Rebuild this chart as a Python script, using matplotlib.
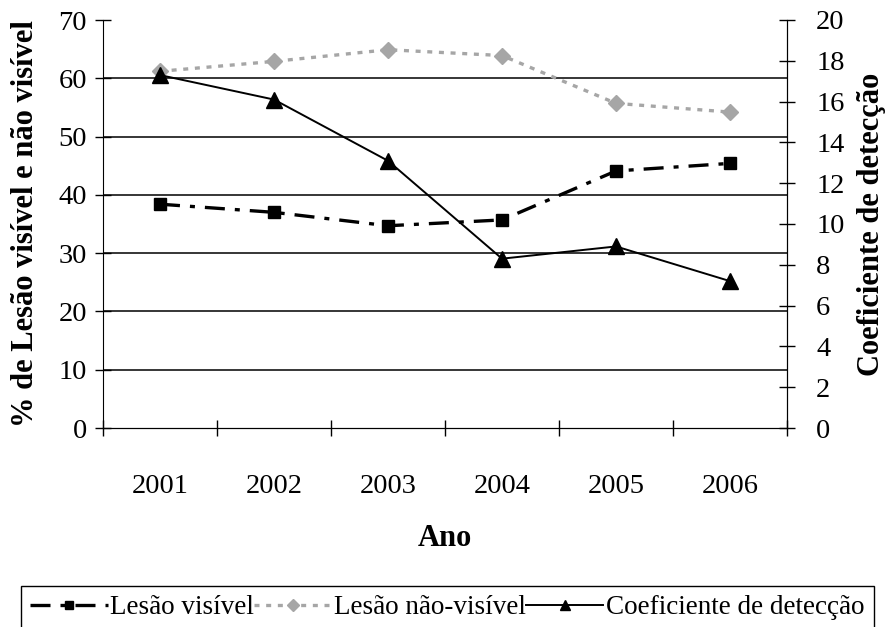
import matplotlib
matplotlib.use('Agg')
import matplotlib.pyplot as plt
from matplotlib.ticker import FixedLocator, NullFormatter

plt.rcParams['font.family'] = ['Liberation Serif', 'DejaVu Serif']

anos = [2001, 2002, 2003, 2004, 2005, 2006]
lesao_visivel = [38.4, 37.0, 34.7, 35.7, 44.1, 45.4]
lesao_nao_visivel = [61.2, 62.9, 64.9, 63.9, 55.7, 54.2]
coef_deteccao = [17.3, 16.1, 13.1, 8.3, 8.9, 7.2]

fig = plt.figure(figsize=(8.89, 6.27), dpi=100)
ax = fig.add_axes([103 / 889, 1 - 428 / 627, (787 - 103) / 889, (428 - 20) / 627])
ax2 = ax.twinx()

l1, = ax.plot(anos, lesao_visivel, color='black', lw=2.4, ls=(0, (6, 3, 1.5, 3)),
              marker='s', ms=8, mfc='black', mec='black', label='Lesão visível', zorder=3)
l2, = ax.plot(anos, lesao_nao_visivel, color='#a6a6a6', lw=2.4, ls=(0, (1.5, 2)),
              marker='D', ms=8.5, mfc='#a6a6a6', mec='#a6a6a6', label='Lesão não-visível', zorder=3)
l3, = ax2.plot(anos, coef_deteccao, color='black', lw=1.4, ls='-',
               marker='^', ms=11, mfc='black', mec='black', label='Coeficiente de detecção')

ax.set_xlim(2000.5, 2006.5)
ax.set_ylim(0, 70)
ax2.set_ylim(0, 20)
ax.set_yticks(range(0, 71, 10))
ax2.set_yticks(range(0, 21, 2))
ax.set_xticks(anos)
ax.xaxis.set_minor_locator(FixedLocator([a + 0.5 for a in [2000] + anos]))
ax.xaxis.set_minor_formatter(NullFormatter())

for y in range(10, 61, 10):
    ax.axhline(y, color='black', lw=1.1, zorder=1)

for a in (ax, ax2):
    a.spines['top'].set_visible(False)
ax2.spines['left'].set_visible(False)

ax.tick_params(axis='x', which='major', length=0, pad=33, labelsize=20.5)
ax.tick_params(axis='x', which='minor', direction='inout', length=11, width=1)
ax.tick_params(axis='y', direction='inout', length=11, width=1, pad=6, labelsize=20.5)
ax2.tick_params(axis='y', direction='inout', length=12, width=1, pad=15, labelsize=20.5)

ax.set_xlabel('Ano', fontsize=22, fontweight='bold', labelpad=18)
ax.set_ylabel('% de Lesão visível e não visível', fontsize=22, fontweight='bold', labelpad=13)
ax2.set_ylabel('Coeficiente de detecção', fontsize=22, fontweight='bold', labelpad=9)

leg = fig.legend(handles=[l1, l2, l3], loc='upper left', bbox_to_anchor=(21 / 889, 1 - 586 / 627),
                 ncol=3, fontsize=19.5, frameon=True, fancybox=False, framealpha=1,
                 edgecolor='black', handlelength=2.85, handletextpad=0.1, columnspacing=0,
                 borderpad=0.35, borderaxespad=0, markerscale=0.7)
leg.get_frame().set_linewidth(1.0)

fig.savefig('out.png', dpi=100)
